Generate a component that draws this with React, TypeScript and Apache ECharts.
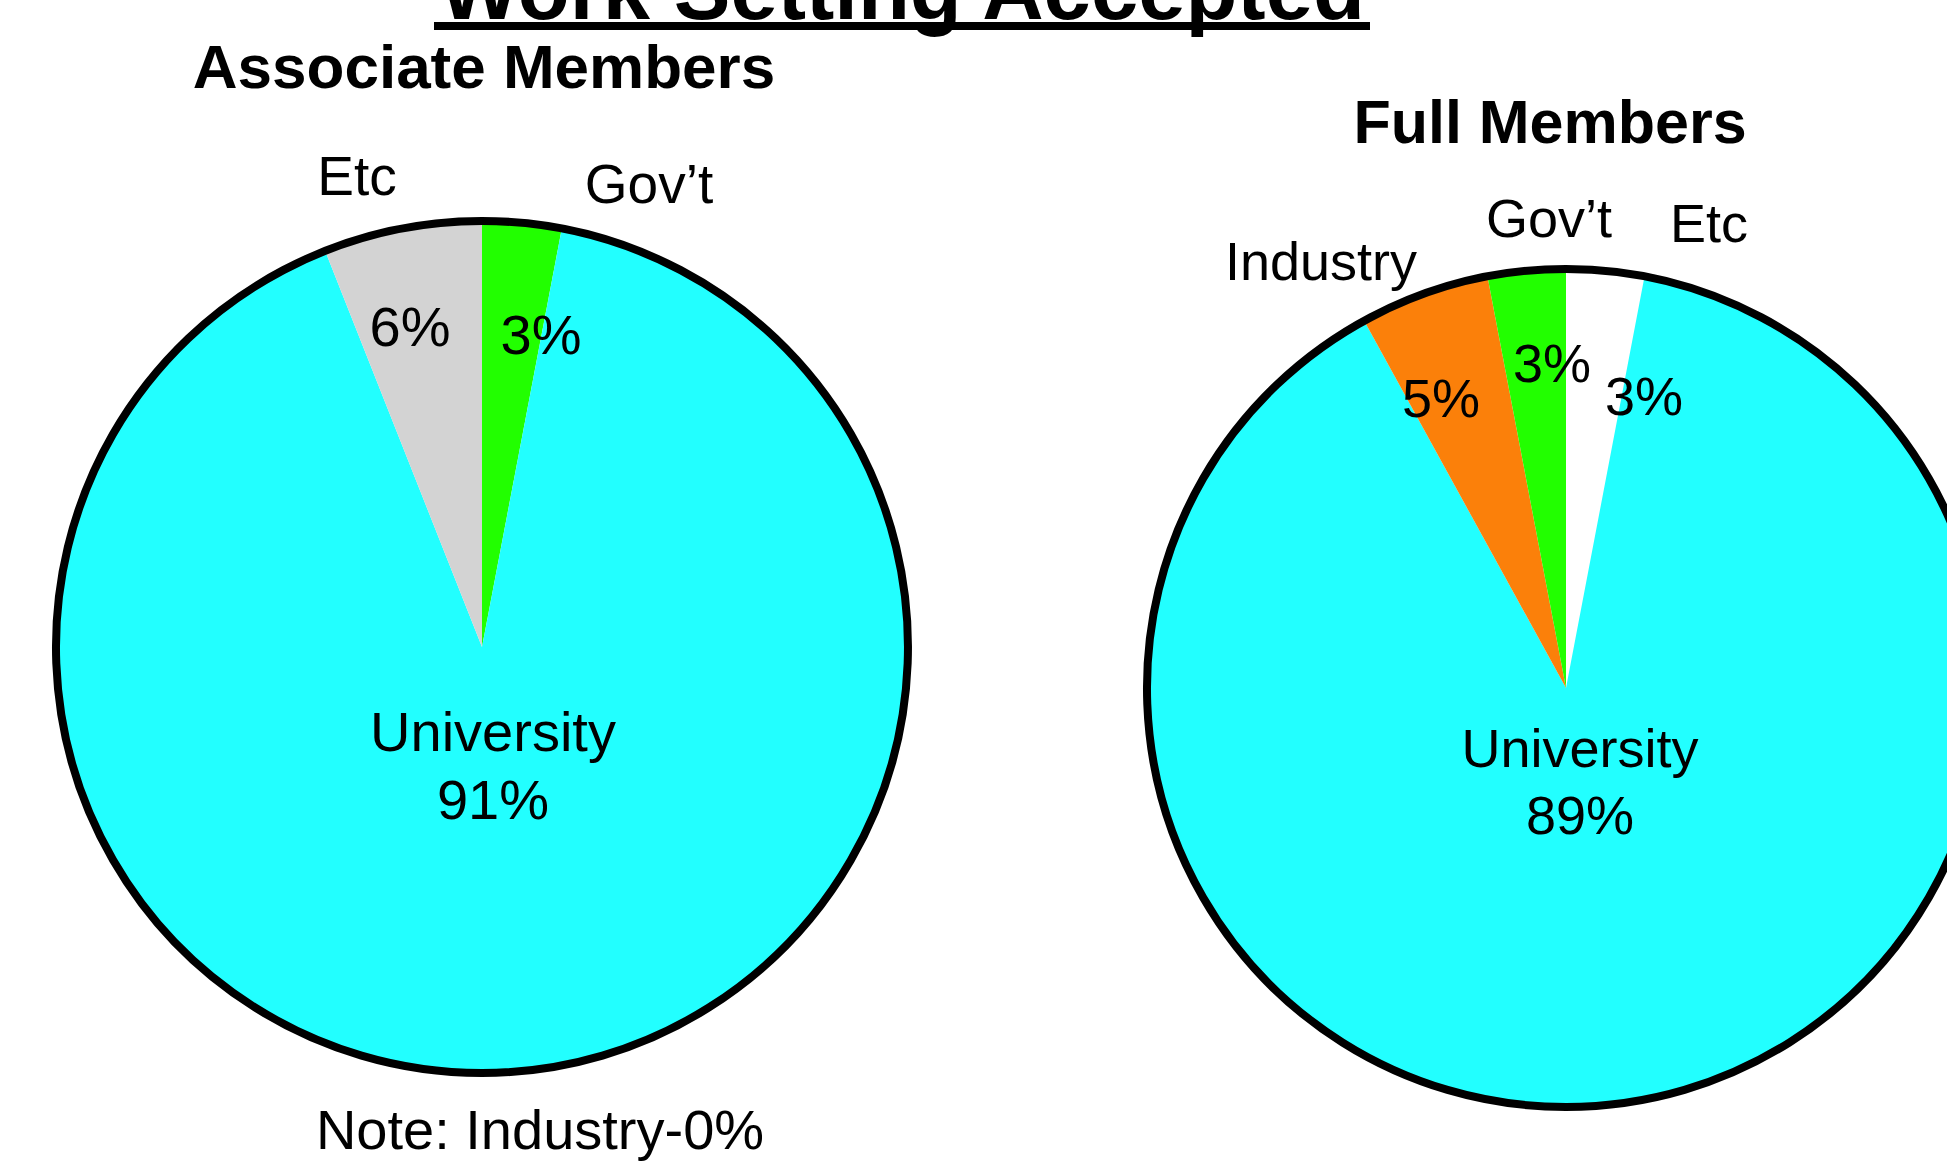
import React, { useEffect, useRef } from "react";
import * as echarts from "echarts";

const FONT = "'Liberation Sans', Arial, Helvetica, sans-serif";

// ---- data ----
const mainTitle = "Work Setting Accepted";
const assocTitle = "Associate Members";
const fullTitle = "Full Members";

// clockwise from 12 o'clock
const assocCategories = ["Gov’t", "University", "Etc"];
const assocValues = [3, 91, 6];
const assocColors = ["#22FF00", "#22FFFF", "#D3D3D3"];
const assocIndustryShare = 0;

const fullCategories = ["Etc", "University", "Industry", "Gov’t"];
const fullValues = [3, 89, 5, 3];
const fullColors = ["#FFFFFF", "#22FFFF", "#FB800A", "#22FF00"];

// ---- label placement (layout only) ----
const assocValuePos: Record<string, number[]> = {
  "Gov’t": [541, 334],
  University: [493, 765],
  Etc: [410, 326],
};
const assocNamePos: Record<string, number[]> = {
  "Gov’t": [649, 184],
  Etc: [357, 176],
};
const fullValuePos: Record<string, number[]> = {
  Etc: [1644, 396],
  University: [1580, 781],
  Industry: [1441, 398],
  "Gov’t": [1552, 363],
};
const fullNamePos: Record<string, number[]> = {
  Etc: [1709, 223],
  Industry: [1321, 261],
  "Gov’t": [1549, 218],
};

function buildPie(
  cats: string[],
  vals: number[],
  colors: string[],
  center: number[],
  radius: number,
  fontSize: number,
  nameFontSize: number,
  lineHeight: number,
  valuePos: Record<string, number[]>,
  namePos: Record<string, number[]>
) {
  const common = {
    type: "pie",
    center,
    radius,
    startAngle: 90,
    clockwise: true,
    silent: true,
    avoidLabelOverlap: false,
    minShowLabelAngle: 0,
    emphasis: { disabled: true },
    labelLine: { show: false },
  };
  const main = {
    ...common,
    data: cats.map((c, i) => ({ name: c, value: vals[i], itemStyle: { color: colors[i] } })),
    itemStyle: { borderWidth: 0 },
    label: {
      show: true,
      position: "inside",
      color: "#000",
      fontFamily: FONT,
      fontSize,
      lineHeight,
      formatter: (p: any) => (p.name === "University" ? `${p.name}\n${p.value}%` : `${p.value}%`),
    },
    labelLayout: (p: any) => {
      const pos = valuePos[cats[p.dataIndex]];
      return pos ? { x: pos[0], y: pos[1], align: "center", verticalAlign: "middle" } : {};
    },
  };
  const names = {
    ...common,
    data: cats.map((c, i) => ({ name: c, value: vals[i], itemStyle: { color: "transparent" } })),
    itemStyle: { borderWidth: 0 },
    label: {
      show: true,
      position: "inside",
      color: "#000",
      fontFamily: FONT,
      fontSize: nameFontSize,
      formatter: (p: any) => (p.name === "University" ? "" : p.name),
    },
    labelLayout: (p: any) => {
      const pos = namePos[cats[p.dataIndex]];
      return pos ? { x: pos[0], y: pos[1], align: "center", verticalAlign: "middle" } : {};
    },
  };
  const outline = {
    ...common,
    data: [{ name: "outline", value: 1 }],
    itemStyle: { color: "transparent", borderColor: "#000", borderWidth: 8 },
    label: { show: false },
  };
  return [main, names, outline];
}

export default function App() {
  const ref = useRef<HTMLDivElement>(null);

  useEffect(() => {
    if (!ref.current) return;
    const chart = echarts.init(ref.current, undefined, { renderer: "svg" });
    const option = {
      animation: false,
      backgroundColor: "#FFFFFF",
      series: [
        ...buildPie(assocCategories, assocValues, assocColors, [482, 647], 426, 56, 55, 68, assocValuePos, assocNamePos),
        ...buildPie(fullCategories, fullValues, fullColors, [1566, 688], 419, 54, 54, 67, fullValuePos, fullNamePos),
      ],
      graphic: [
        {
          type: "text",
          x: 902,
          y: -11,
          style: {
            text: mainTitle,
            fill: "#000",
            font: `bold 85px ${FONT}`,
            align: "center",
            verticalAlign: "middle",
            textAlign: "center",
            textVerticalAlign: "middle",
          },
        },
        {
          type: "rect",
          shape: { x: 434, y: 22, width: 936, height: 8 },
          style: { fill: "#000" },
        },
        {
          type: "text",
          x: 484,
          y: 66,
          style: {
            text: assocTitle,
            fill: "#000",
            font: `bold 62px ${FONT}`,
            align: "center",
            verticalAlign: "middle",
            textAlign: "center",
            textVerticalAlign: "middle",
          },
        },
        {
          type: "text",
          x: 1550,
          y: 122,
          style: {
            text: fullTitle,
            fill: "#000",
            font: `bold 61px ${FONT}`,
            align: "center",
            verticalAlign: "middle",
            textAlign: "center",
            textVerticalAlign: "middle",
          },
        },
        {
          type: "text",
          x: 540,
          y: 1129,
          style: {
            text: `Note: Industry-${assocIndustryShare}%`,
            fill: "#000",
            font: `56px ${FONT}`,
            align: "center",
            verticalAlign: "middle",
            textAlign: "center",
            textVerticalAlign: "middle",
          },
        },
      ],
    };
    chart.setOption(option as any);
    return () => chart.dispose();
  }, []);

  return (
    <div
      ref={ref}
      style={{ position: "fixed", left: 0, top: 0, width: 1947, height: 1168, background: "#fff" }}
    />
  );
}
